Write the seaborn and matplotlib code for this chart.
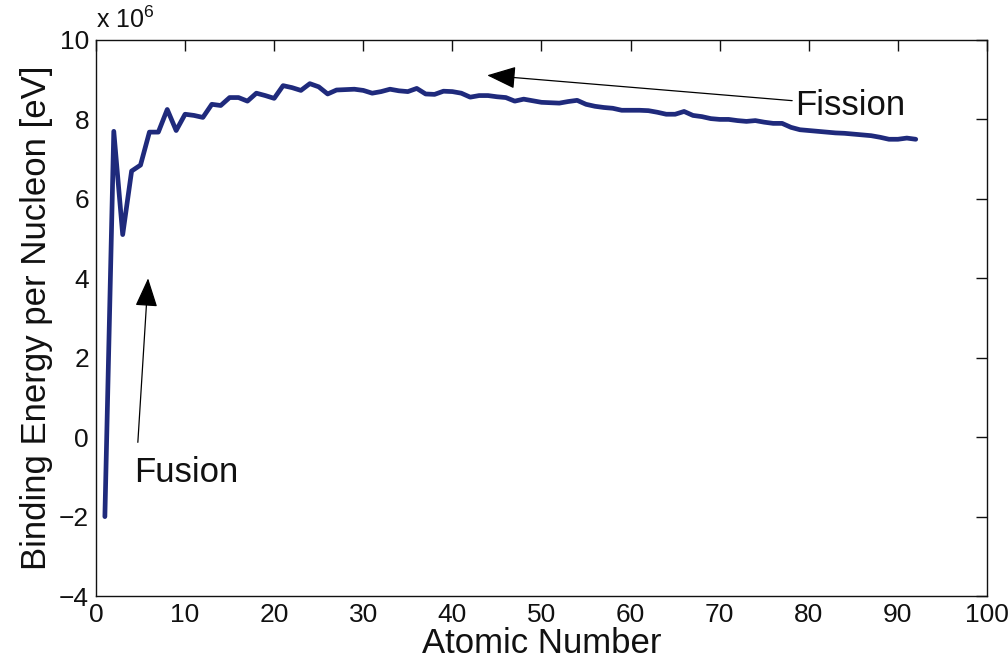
import numpy as np
import pandas as pd
import matplotlib
matplotlib.use("Agg")
import matplotlib.pyplot as plt
import seaborn as sns

# Atomic number Z = 1..92
atomic_number = list(range(1, 93))
# Binding energy per nucleon, in units of 1e6 eV
binding_energy = [
    -2.0, 7.7, 5.1, 6.7, 6.85, 7.68, 7.68, 8.25, 7.72, 8.13,
    8.1, 8.05, 8.38, 8.35, 8.55, 8.55, 8.46, 8.66, 8.6, 8.53,
    8.85, 8.8, 8.73, 8.9, 8.82, 8.64, 8.74, 8.75, 8.76, 8.73,
    8.66, 8.7, 8.76, 8.72, 8.7, 8.78, 8.64, 8.63, 8.71, 8.7,
    8.66, 8.56, 8.6, 8.6, 8.57, 8.55, 8.46, 8.51, 8.47, 8.43,
    8.42, 8.41, 8.45, 8.48, 8.38, 8.33, 8.3, 8.28, 8.23, 8.23,
    8.23, 8.22, 8.18, 8.13, 8.13, 8.2, 8.1, 8.07, 8.02, 8.0,
    8.0, 7.97, 7.95, 7.97, 7.93, 7.9, 7.9, 7.8, 7.74, 7.72,
    7.7, 7.68, 7.66, 7.65, 7.63, 7.61, 7.59, 7.55, 7.5, 7.5,
    7.53, 7.5,
]
x_ticks = [0, 10, 20, 30, 40, 50, 60, 70, 80, 90, 100]
y_ticks = [-4, -2, 0, 2, 4, 6, 8, 10]

sns.set_style("white")
plt.rcParams['font.family'] = ['Liberation Sans', 'DejaVu Sans']
plt.rcParams['mathtext.fontset'] = 'custom'
plt.rcParams['mathtext.rm'] = 'Liberation Sans'
plt.rcParams['text.color'] = '#111111'
plt.rcParams['axes.labelcolor'] = '#111111'

df = pd.DataFrame({"Z": atomic_number, "BE": binding_energy})

fig = plt.figure(figsize=(10.08, 6.66), dpi=100)
ax = fig.add_axes([0.0952, 0.105, 0.884, 0.835])

sns.lineplot(data=df, x="Z", y="BE", ax=ax, color="#1f2a7c", linewidth=3.4, sort=False)

ax.set_xlim(0, 100)
ax.set_ylim(-4, 10)
ax.set_xticks(x_ticks)
ax.set_yticks(y_ticks)
ax.set_xticklabels([str(t) for t in x_ticks])
ax.set_yticklabels([("\u2212" + str(-t)) if t < 0 else str(t) for t in y_ticks])
ax.tick_params(direction="in", length=8, width=1, top=True, right=True,
               labelsize=19, colors="#111111", pad=5)
for s in ax.spines.values():
    s.set_color("#111111")
    s.set_linewidth(1.0)

ax.set_xlabel("Atomic Number", fontsize=25, labelpad=0)
ax.set_ylabel("Binding Energy per Nucleon [eV]", fontsize=25, labelpad=4)

ax.text(0.0, 1.012, r"x 10$^{6}$", transform=ax.transAxes, fontsize=18,
        ha="left", va="bottom")

arrow_style = dict(arrowstyle="-|>,head_length=0.9,head_width=0.35",
                   color="black", lw=0.9, shrinkA=0, shrinkB=0, mutation_scale=20)
ax.annotate("Fission", xy=(43.9, 9.11), xytext=(78.5, 8.35),
            fontsize=25, ha="left", va="center", arrowprops=arrow_style)
ax.annotate("", xy=(5.85, 4.0), xytext=(4.7, -0.13), arrowprops=arrow_style)
ax.text(4.3, -0.9, "Fusion", fontsize=25, ha="left", va="center")

fig.savefig("out.png", dpi=100)
